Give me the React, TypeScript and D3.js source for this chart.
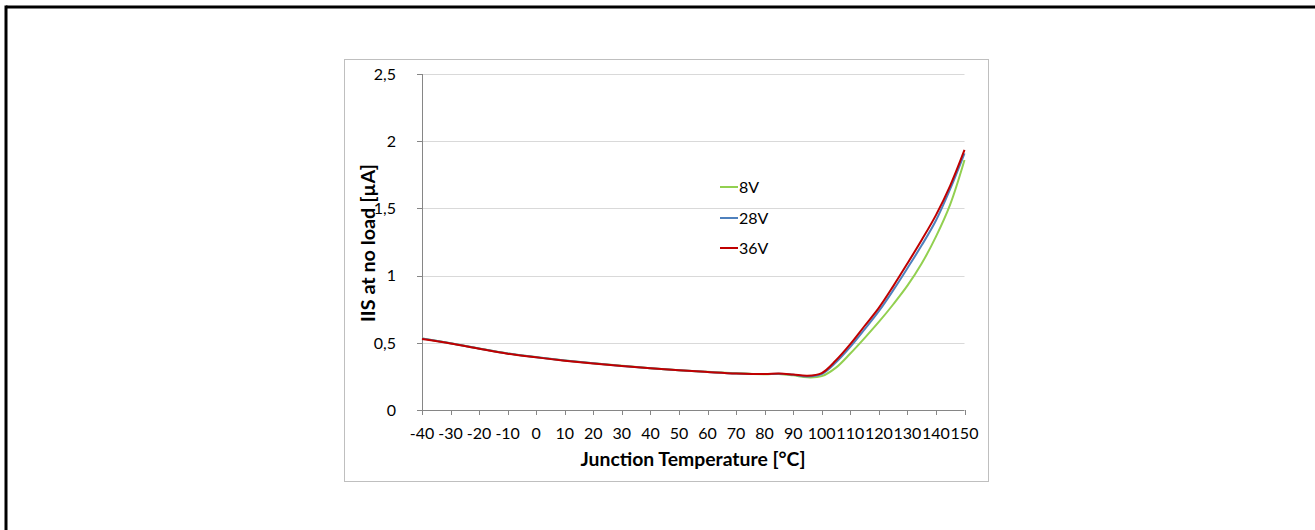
import React from "react";
import * as d3 from "d3";

const temps = [-40, -30, -20, -10, 0, 10, 20, 30, 40, 50, 60, 70, 80, 85, 90, 95, 100, 105, 110, 115, 120, 125, 130, 135, 140, 145, 150];
const v8 = [0.533, 0.497, 0.458, 0.421, 0.394, 0.369, 0.348, 0.329, 0.311, 0.296, 0.284, 0.273, 0.266, 0.268, 0.258, 0.243, 0.252, 0.315, 0.42, 0.535, 0.655, 0.785, 0.925, 1.09, 1.29, 1.53, 1.86];
const v28 = [0.533, 0.497, 0.457, 0.42, 0.393, 0.368, 0.347, 0.328, 0.31, 0.295, 0.283, 0.272, 0.267, 0.27, 0.262, 0.25, 0.268, 0.355, 0.47, 0.6, 0.735, 0.89, 1.055, 1.225, 1.41, 1.645, 1.91];
const v36 = [0.528, 0.495, 0.456, 0.419, 0.392, 0.367, 0.346, 0.327, 0.31, 0.295, 0.283, 0.272, 0.267, 0.271, 0.264, 0.255, 0.275, 0.37, 0.49, 0.625, 0.76, 0.92, 1.09, 1.265, 1.45, 1.67, 1.935];
const seriesNames = ["8V", "28V", "36V"];
const seriesColors = ["#92d050", "#4f81bd", "#c00000"];
const xTicks = [-40, -30, -20, -10, 0, 10, 20, 30, 40, 50, 60, 70, 80, 90, 100, 110, 120, 130, 140, 150];
const yTicks = [0, 0.5, 1, 1.5, 2, 2.5];
const xTitle = "Junction Temperature [°C]";
const yTitle = "IIS at no load [µA]";

const FONT = "Lato, 'Open Sans', sans-serif";

export default function App() {
  const W = 1315, H = 530;
  const x = d3.scaleLinear().domain([-40, 150]).range([422, 964.5]);
  const y = d3.scaleLinear().domain([0, 2.5]).range([410, 74]);
  const series = [v8, v28, v36];
  const line = d3
    .line<number>()
    .x((_, i) => x(temps[i]))
    .y((d) => y(d))
    .curve(d3.curveCatmullRom.alpha(0.5));
  const fmt = (v: number) => String(v).replace(".", ",");
  const legendX = 720;
  const legendY = [187, 218, 248];

  return (
    <svg width={W} height={H} style={{ position: "absolute", left: 0, top: 0 }} fontFamily={FONT}>
      <rect x={0} y={0} width={W} height={H} fill="#fff" />
      {/* outer frame */}
      <line x1={6} y1={7} x2={W + 5} y2={7} stroke="#000" strokeWidth={3} />
      <line x1={6} y1={5.5} x2={6} y2={H + 5} stroke="#000" strokeWidth={3} />
      {/* chart area box */}
      <rect x={344.5} y={59.5} width={644} height={422} fill="#fff" stroke="#bfbfbf" strokeWidth={1} />
      {/* gridlines */}
      {yTicks.filter((t) => t > 0).map((t) => (
        <line key={"g" + t} x1={x(-40)} x2={x(150)} y1={Math.round(y(t)) + 0.5} y2={Math.round(y(t)) + 0.5} stroke="#d9d9d9" strokeWidth={1} />
      ))}
      {/* axes */}
      <line x1={Math.round(x(-40)) + 0.5} x2={Math.round(x(-40)) + 0.5} y1={y(2.5)} y2={y(0)} stroke="#868686" />
      <line x1={x(-40)} x2={x(150)} y1={Math.round(y(0)) + 0.5} y2={Math.round(y(0)) + 0.5} stroke="#868686" />
      {yTicks.map((t) => (
        <g key={"y" + t}>
          <line x1={x(-40) - 5} x2={x(-40)} y1={Math.round(y(t)) + 0.5} y2={Math.round(y(t)) + 0.5} stroke="#868686" />
          <text x={396} y={y(t)} dy="0.36em" textAnchor="end" fontSize={16} fill="#000">
            {fmt(t)}
          </text>
        </g>
      ))}
      {xTicks.map((t) => (
        <g key={"x" + t}>
          <line x1={Math.round(x(t)) + 0.5} x2={Math.round(x(t)) + 0.5} y1={y(0)} y2={y(0) + 5} stroke="#868686" />
          <text x={x(t)} y={438.5} textAnchor="middle" fontSize={16} fill="#000">
            {t}
          </text>
        </g>
      ))}
      {/* series */}
      {series.map((s, i) => (
        <path key={seriesNames[i]} d={line(s) || ""} fill="none" stroke={seriesColors[i]} strokeWidth={2} />
      ))}
      {/* legend */}
      {seriesNames.map((n, i) => (
        <g key={"l" + n}>
          <line x1={legendX} x2={legendX + 18} y1={legendY[i]} y2={legendY[i]} stroke={seriesColors[i]} strokeWidth={2} />
          <text x={legendX + 19} y={legendY[i]} dy="0.36em" fontSize={16} fill="#000">
            {n}
          </text>
        </g>
      ))}
      {/* titles */}
      <text x={693} y={466} textAnchor="middle" fontSize={18} fontWeight="bold" fill="#000" textLength={225} lengthAdjust="spacingAndGlyphs">
        {xTitle}
      </text>
      <text
        transform={`translate(375,${(y(0) + y(2.5)) / 2 + 1}) rotate(-90)`}
        textAnchor="middle"
        fontSize={18}
        fontWeight="bold"
        fill="#000"
        textLength={158}
        lengthAdjust="spacingAndGlyphs"
      >
        {yTitle}
      </text>
    </svg>
  );
}
